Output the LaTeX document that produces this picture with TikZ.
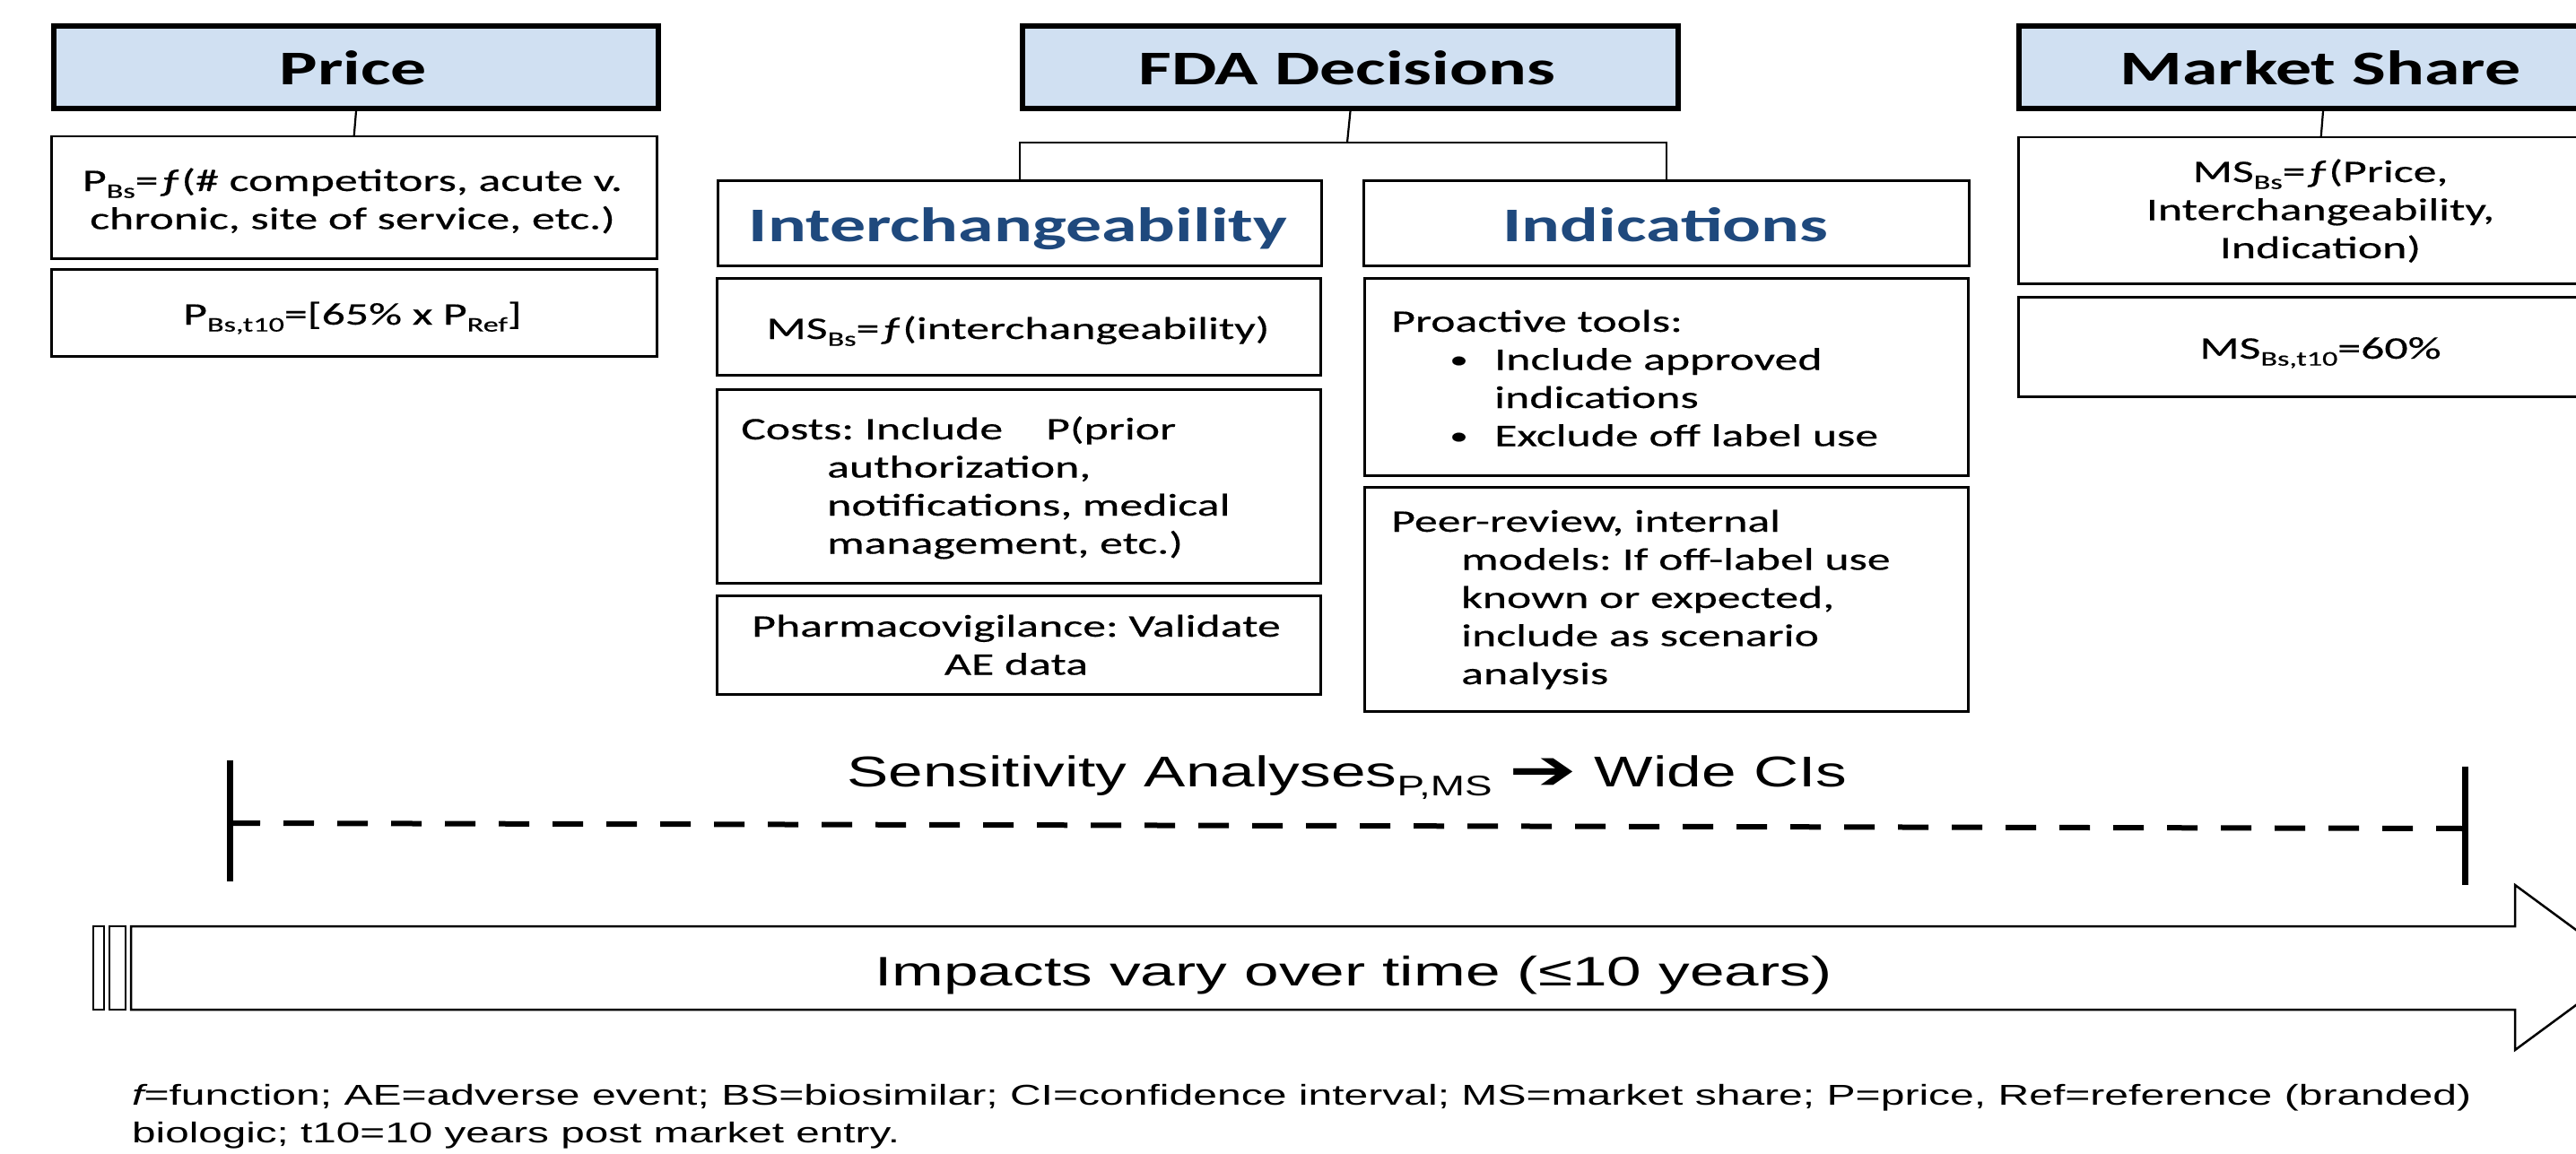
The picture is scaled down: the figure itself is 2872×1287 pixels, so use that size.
\documentclass[tikz,border=0pt]{standalone}
\usepackage{fontspec}
\usepackage{graphicx}
\setmainfont{Carlito}[FakeStretch=1.48, UprightFeatures={FakeBold=0.4}]
\newfontfamily\arialf{Liberation Sans}
\newfontfamily\symf{DejaVu Sans}
\definecolor{hdfill}{RGB}{208,224,242}
\definecolor{hdblue}{RGB}{31,73,125}
\frenchspacing
% lowered small text for subscripts
\newcommand\lo[1]{\raisebox{-0.22em}{\scalebox{0.66}{#1}}}
% list bullet
\newcommand\bul{\raisebox{0.06em}{\scalebox{0.8}{•}}}
\tikzset{
  hdbox/.style={draw=black, line width=6pt, fill=hdfill, anchor=north west, inner sep=0pt},
  infobox/.style={draw=black, line width=2.5pt, fill=white, anchor=north west, inner sep=0pt},
  hdtext/.style={anchor=base, inner sep=0pt, font=\fontsize{54}{60}\selectfont\bfseries},
  subhd/.style={hdtext, text=hdblue},
  txt/.style={inner sep=0pt, font=\fontsize{35}{42.5}\selectfont},
  conn/.style={draw=black, line width=2.2pt},
  endbar/.style={draw=black, line width=7pt},
  spread/.style={draw=black, line width=6pt, dash pattern=on 34pt off 26pt},
  bigarrow/.style={draw=black, line width=2.5pt, fill=white, line join=miter},
}
\begin{document}
\begin{tikzpicture}[x=1pt, y=-1pt]
\useasboundingbox (0,0) rectangle (2872,1287);
\clip (0,0) rectangle (2872,1287);
\fill[white] (0,0) rectangle (2872,1287);

% ---------- Price column ----------
\node[hdbox, minimum width=674pt, minimum height=92pt] (price) at (57,26) {};
\node[hdtext] (pricet) at (394,95) {Price};
\node[infobox, minimum width=675pt, minimum height=136pt] (pb1) at (56,151) {};
\node[infobox, minimum width=675pt, minimum height=97pt] (pb2) at (56,299) {};
\node[txt, anchor=base] (pb1t) at (393,213) {\begin{tabular}[t]{@{}c@{}}P\lo{Bs}=ƒ(\# competitors, acute v.\\chronic, site of service, etc.)\end{tabular}};
\node[txt, anchor=base] (pb2t) at (393,362) {P\lo{Bs,t10}=[65\% x P\lo{Ref}]};
\draw[conn] (price.south) -- (pb1.north);

% ---------- FDA Decisions column ----------
\node[hdbox, minimum width=731pt, minimum height=92pt] (fda) at (1137,26) {};
\node[hdtext] (fdat) at (1502,95) {FDA Decisions};
\coordinate (fdasplit) at (1502,159);
\node[infobox, minimum width=673pt, minimum height=95pt] (inter) at (799,200) {};
\node[infobox, minimum width=675pt, minimum height=95pt] (indic) at (1519,200) {};
\node[subhd] (intert) at (1135,269) {Interchangeability};
\node[subhd] (indict) at (1857,269) {Indications};
\draw[conn] (fda.south) -- (fdasplit);
\draw[conn] (inter.north) |- (fdasplit) -| (indic.north);

\node[infobox, minimum width=673pt, minimum height=108pt] (ims) at (798,309) {};
\node[infobox, minimum width=673pt, minimum height=216pt] (icost) at (798,433) {};
\node[infobox, minimum width=673pt, minimum height=110pt] (ipv) at (798,663) {};
\node[txt, anchor=base] (imst) at (1135,378) {MS\lo{Bs}=ƒ(interchangeability)};
\node[txt, anchor=base west] (icostt) at (826,490) {\begin{tabular}[t]{@{}l@{}}Costs: Include\hspace{48pt}P(prior\\\hspace{96pt}authorization,\\\hspace{96pt}notifications, medical\\\hspace{96pt}management, etc.)\end{tabular}};
\node[txt, anchor=base] (ipvt) at (1133,710) {\begin{tabular}[t]{@{}c@{}}Pharmacovigilance: Validate\\AE data\end{tabular}};

\node[infobox, minimum width=673pt, minimum height=220pt] (dtools) at (1520,309) {};
\node[infobox, minimum width=673pt, minimum height=250pt] (dpeer) at (1520,542) {};
\node[txt, anchor=base west] (dtoolst) at (1551,370) {\begin{tabular}[t]{@{}l@{}}Proactive tools:\\\hspace{65pt}\makebox[50pt][l]{\bul}Include approved\\\hspace{115pt}indications\\\hspace{65pt}\makebox[50pt][l]{\bul}Exclude off label use\end{tabular}};
\node[txt, anchor=base west] (dpeert) at (1551,593) {\begin{tabular}[t]{@{}l@{}}Peer-review, internal\\\hspace{78pt}models: If off-label use\\\hspace{78pt}known or expected,\\\hspace{78pt}include as scenario\\\hspace{78pt}analysis\end{tabular}};

% ---------- Market Share column ----------
\node[hdbox, minimum width=678pt, minimum height=92pt] (mshare) at (2248,26) {};
\node[hdtext] (msharet) at (2587,95) {Market Share};
\node[infobox, minimum width=675pt, minimum height=163pt] (mb1) at (2249,152) {};
\node[infobox, minimum width=675pt, minimum height=111pt] (mb2) at (2249,330) {};
\node[txt, anchor=base] (mb1t) at (2587,203) {\begin{tabular}[t]{@{}c@{}}MS\lo{Bs}=ƒ(Price,\\Interchangeability,\\Indication)\end{tabular}};
\node[txt, anchor=base] (mb2t) at (2587,400) {MS\lo{Bs,t10}=60\%};
\draw[conn] (mshare.south) -- (mb1.north);

% ---------- Sensitivity range ----------
\coordinate (lbtop) at (256,848);
\coordinate (lbbot) at (256,983);
\coordinate (rbtop) at (2748,855);
\coordinate (rbbot) at (2748,987);
\coordinate (lmid) at (256,918);
\coordinate (rmid) at (2748,924);
\draw[endbar] (lbtop) -- (lbbot);
\draw[endbar] (rbtop) -- (rbbot);
\draw[spread] (lmid) -- (rmid);
\node[anchor=base west, inner sep=0pt] (sens) at (944,877) {\resizebox{1115pt}{\height}{\fontsize{48}{55}\selectfont\arialf Sensitivity Analyses\lo{P,MS} \raisebox{-0.08em}{\scalebox{1.3}{\symf ➔}} Wide CIs}};

% ---------- Time arrow ----------
\draw[bigarrow] (146,1033) -- (2804,1033) -- (2804,987) -- (2929,1079) -- (2804,1171) -- (2804,1126) -- (146,1126) -- cycle;
\draw[bigarrow] (104,1033) rectangle (116,1126);
\draw[bigarrow] (122,1033) rectangle (140,1126);
\node[anchor=base west, inner sep=0pt] (impacts) at (975,1099) {\resizebox{1067pt}{\height}{\fontsize{46}{52}\selectfont\arialf Impacts vary over time (≤10 years)}};

% ---------- Footnote ----------
\node[anchor=base west, inner sep=0pt] (fn1) at (147,1232) {\resizebox{2608pt}{\height}{\fontsize{32}{36}\selectfont\arialf {\itshape f}=function; AE=adverse event; BS=biosimilar; CI=confidence interval; MS=market share; P=price, Ref=reference (branded)}};
\node[anchor=base west, inner sep=0pt] (fn2) at (147,1274) {\resizebox{856pt}{\height}{\fontsize{32}{36}\selectfont\arialf biologic; t10=10 years post market entry.}};
\end{tikzpicture}
\end{document}
